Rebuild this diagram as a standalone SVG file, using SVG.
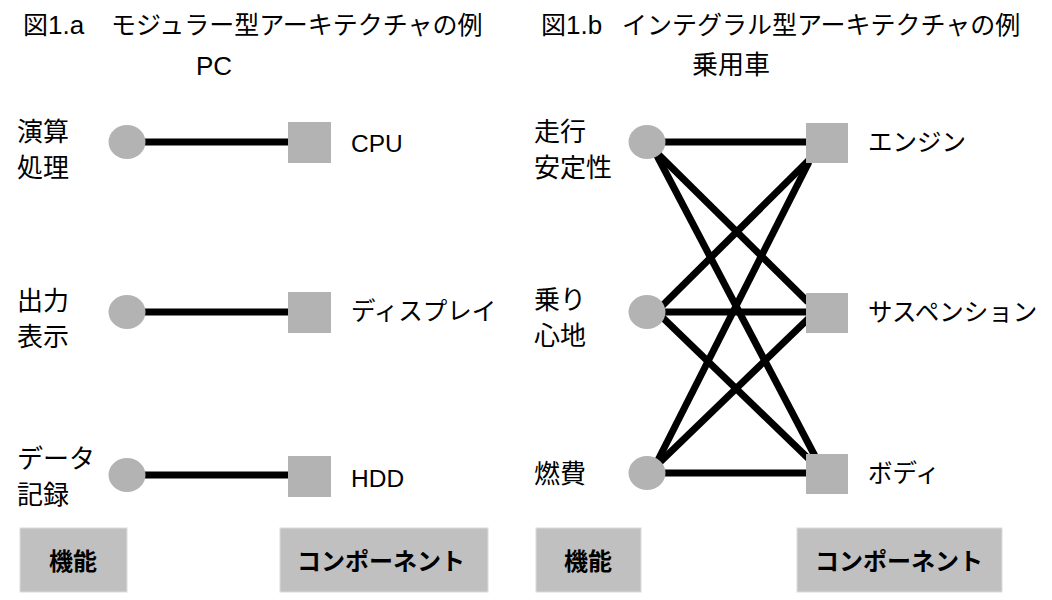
<svg xmlns="http://www.w3.org/2000/svg" width="1052" height="600" viewBox="0 0 1052 600">
<style>
text { font-family: "Liberation Sans", "Noto Sans CJK JP", sans-serif; fill: #000; }
.title { font-size: 25px; }
.sub { font-size: 26px; text-anchor: middle; }
.fn { font-size: 26px; }
.cp { font-size: 24.5px; }
.lbl { font-size: 24px; font-weight: bold; text-anchor: middle; }
.fnode { fill: #b3b3b3; }
.cnode { fill: #b3b3b3; }
.box { fill: #c0c0c0; stroke: #dcdcdc; stroke-width: 1; }
.conn line { stroke: #000; stroke-width: 7; stroke-linecap: butt; }
</style>
<rect width="1052" height="600" fill="#fff"/>

<text class="title" x="23" y="34">図<tspan font-size="26">1.a</tspan><tspan x="111">モジュラー型アーキテクチャの例</tspan></text>
<text class="sub" x="214" y="75">PC</text>
<text class="title" x="541" y="34">図<tspan font-size="26">1.b</tspan><tspan x="622">インテグラル型アーキテクチャの例</tspan></text>
<text class="sub" x="731" y="74">乗用車</text>

<g id="connectors" class="conn">
  <line x1="140" y1="142" x2="292" y2="142"/>
  <line x1="140" y1="312" x2="292" y2="312"/>
  <line x1="140" y1="475" x2="292" y2="475"/>
  <line x1="660" y1="142" x2="810" y2="142"/>
  <line x1="656" y1="152" x2="808" y2="302"/>
  <line x1="654" y1="150" x2="816" y2="458"/>
  <line x1="660" y1="308" x2="809" y2="160"/>
  <line x1="660" y1="312" x2="810" y2="312"/>
  <line x1="660" y1="315" x2="812" y2="462"/>
  <line x1="655" y1="466" x2="809" y2="162"/>
  <line x1="656" y1="466" x2="809" y2="318"/>
  <line x1="660" y1="473" x2="810" y2="473"/>
</g>

<g id="f-calc"><ellipse class="fnode" cx="127" cy="142" rx="18.5" ry="17"/><text class="fn" x="17" y="141">演算</text><text class="fn" x="17" y="177">処理</text></g>
<g id="f-display"><ellipse class="fnode" cx="127" cy="312" rx="18.5" ry="17"/><text class="fn" x="17" y="310">出力</text><text class="fn" x="17" y="346">表示</text></g>
<g id="f-data"><ellipse class="fnode" cx="127" cy="475" rx="18.5" ry="17"/><text class="fn" x="17" y="468">データ</text><text class="fn" x="17" y="504">記録</text></g>

<g id="c-cpu"><rect class="cnode" x="288" y="122" width="43" height="41"/><text class="cp" x="351" y="152">CPU</text></g>
<g id="c-display"><rect class="cnode" x="288" y="292" width="43" height="41"/><text class="cp" x="351" y="320">ディスプレイ</text></g>
<g id="c-hdd"><rect class="cnode" x="288" y="456" width="43" height="41"/><text class="cp" x="351" y="487">HDD</text></g>

<g id="f-stability"><ellipse class="fnode" cx="647" cy="142" rx="18.5" ry="17"/><text class="fn" x="534" y="141">走行</text><text class="fn" x="534" y="177">安定性</text></g>
<g id="f-ride"><ellipse class="fnode" cx="647" cy="312" rx="18.5" ry="17"/><text class="fn" x="534" y="309">乗り</text><text class="fn" x="534" y="345">心地</text></g>
<g id="f-fuel"><ellipse class="fnode" cx="647" cy="473" rx="18.5" ry="17"/><text class="fn" x="534" y="483">燃費</text></g>

<g id="c-engine"><rect class="cnode" x="806" y="123" width="42" height="40"/><text class="cp" x="868" y="151">エンジン</text></g>
<g id="c-susp"><rect class="cnode" x="806" y="293" width="42" height="40"/><text class="cp" x="868" y="321">サスペンション</text></g>
<g id="c-body"><rect class="cnode" x="806" y="454" width="42" height="40"/><text class="cp" x="868" y="482">ボディ</text></g>

<g id="legend-fn-a"><rect class="box" x="20" y="528" width="107" height="64"/><text class="lbl" x="73" y="570">機能</text></g>
<g id="legend-cp-a"><rect class="box" x="280" y="528" width="208" height="64"/><text class="lbl" x="381" y="570">コンポーネント</text></g>
<g id="legend-fn-b"><rect class="box" x="536" y="528" width="105" height="64"/><text class="lbl" x="588" y="570">機能</text></g>
<g id="legend-cp-b"><rect class="box" x="797" y="528" width="205" height="64"/><text class="lbl" x="899" y="570">コンポーネント</text></g>
</svg>
